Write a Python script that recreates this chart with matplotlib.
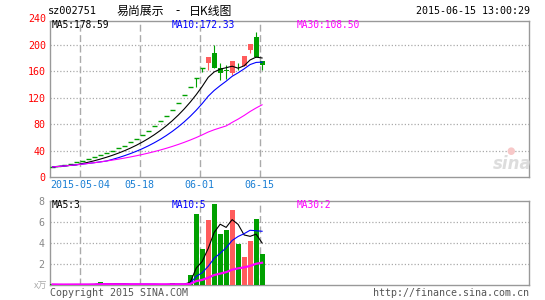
import numpy as np
import pandas as pd
import matplotlib
matplotlib.use("Agg")
import matplotlib.pyplot as plt

W, H = 545, 300
MONO = "DejaVu Sans Mono"
CJK = ["Noto Sans CJK SC", "DejaVu Sans"]
UP = "#ff5c5c"; DOWN = "#00a000"; GRID = "#aaaaaa"; FRAME = "#999999"
DATE_BLUE = "#1a7fd4"

# trading days since listing (2015-04-24), May Day holiday removed
dates = pd.bdate_range("2015-04-24", "2015-06-15").drop(pd.Timestamp("2015-05-01"))
tick_dates = ["2015-05-04", "2015-05-18", "2015-06-01", "2015-06-15"]
tick_labels = ["2015-05-04", "05-18", "06-01", "06-15"]

opens = [15.2, 16.7, 18.4, 20.2, 22.2, 24.5, 26.9, 29.6, 32.6, 35.8, 39.4, 43.3,
         47.7, 52.4, 57.7, 63.5, 69.8, 76.8, 84.5, 92.9, 102.2, 112.4, 123.7, 136.0,
         149.6, 164.6, 173.0, 187.5, 164.7, 161.5, 157.0, 166.5, 168.5, 192.0, 212.0, 175.5]
closes = [15.2, 16.7, 18.4, 20.2, 22.2, 24.5, 26.9, 29.6, 32.6, 35.8, 39.4, 43.3,
          47.7, 52.4, 57.7, 63.5, 69.8, 76.8, 84.5, 92.9, 102.2, 112.4, 123.7, 136.0,
          149.6, 164.6, 181.1, 164.7, 157.1, 160.5, 176.0, 166.0, 183.0, 201.3, 182.0, 169.5]
highs = [15.2, 16.7, 18.4, 20.2, 22.2, 24.5, 26.9, 29.6, 32.6, 35.8, 39.4, 43.3,
         47.7, 52.4, 57.7, 63.5, 69.8, 76.8, 84.5, 92.9, 102.2, 112.4, 123.7, 136.0,
         149.6, 164.6, 181.1, 199.5, 172.0, 170.0, 176.0, 173.0, 183.5, 201.3, 220.0, 176.0]
lows = [15.2, 16.7, 18.4, 20.2, 22.2, 24.5, 26.9, 29.6, 32.6, 35.8, 39.4, 43.3,
        47.7, 52.4, 57.7, 63.5, 69.8, 76.8, 84.5, 92.9, 102.2, 112.4, 123.7, 136.0,
        136.0, 159.0, 162.0, 164.7, 147.0, 148.0, 155.0, 162.0, 168.0, 187.5, 181.5, 162.0]
volumes = [0.05, 0.04, 0.04, 0.05, 0.05, 0.05, 0.05, 0.08, 0.30, 0.05, 0.05, 0.05,
           0.05, 0.05, 0.05, 0.05, 0.05, 0.05, 0.05, 0.05, 0.20, 0.05, 0.05, 0.95,
           6.76, 3.43, 6.19, 7.71, 4.86, 5.24, 7.14, 3.90, 2.70, 4.19, 6.29, 2.95]

ma_windows = [5, 10, 30]
ma_colors = ["black", "#0000ff", "#ff00ff"]
price_ma_text = ["MA5:178.59", "MA10:172.33", "MA30:108.50"]
vol_ma_text = ["MA5:3", "MA10:5", "MA30:2"]


def fx(x):
    return x / W


def fy(y):
    return 1 - y / H


fig = plt.figure(figsize=(W / 100, H / 100), dpi=100)
fig.patch.set_facecolor("white")
ax = fig.add_axes([fx(50), fy(177), 479 / W, 156 / H])
vax = fig.add_axes([fx(50), fy(285), 479 / W, 84 / H])

o = np.array(opens); c = np.array(closes)
hi = np.array(highs); lo = np.array(lows)
vol = np.array(volumes)
x = np.arange(len(c))
cx = x + 0.42
bw = 0.83
cols = np.where(c > o, UP, DOWN)
tick_pos = [dates.get_loc(pd.Timestamp(d)) for d in tick_dates]

for a in (ax, vax):
    a.set_xlim(0, 80)
    for p in tick_pos:
        a.axvline(p, color=GRID, lw=1.0, ls=(0, (5, 2.5)), zorder=1)
    for sp in a.spines.values():
        sp.set_color(FRAME); sp.set_linewidth(1.0)
    a.tick_params(length=0)

# ---- price panel
ax.set_ylim(0, 236.4)
for v in [40, 80, 120, 160, 200]:
    ax.axhline(v, color=GRID, lw=0.9, ls=(0, (1, 1.6)), zorder=1)
ax.vlines(cx, lo, hi, colors=cols, lw=0.8, zorder=3)
body = c != o
ax.bar(x[body], np.abs(c - o)[body], bottom=np.minimum(o, c)[body], width=bw,
       align="edge", color=cols[body], lw=0, zorder=4)
ax.hlines(c[~body], x[~body], x[~body] + bw, colors=cols[~body], lw=1.0, zorder=4)
for n, col in zip(ma_windows, ma_colors):
    ax.plot(cx, pd.Series(c).rolling(n, min_periods=1).mean(), color=col, lw=0.8, zorder=5)

ax.set_yticks([0, 40, 80, 120, 160, 200])
ax.set_yticklabels(["0", "40", "80", "120", "160", "200"], color="#ff0000",
                   family=MONO, fontsize=7.2)
ax.tick_params(axis="y", pad=3)
ax.set_xticks(tick_pos)
ax.set_xticklabels(tick_labels, color=DATE_BLUE, family=MONO, fontsize=7.2)
ax.tick_params(axis="x", pad=2)
fig.text(fx(46.5), fy(18.6), "240", ha="right", va="center", color="#ff0000",
         family=MONO, fontsize=7.2)

# ---- volume panel
vax.set_ylim(0, 8)
for v in [2, 4, 6]:
    vax.axhline(v, color=GRID, lw=0.9, ls=(0, (1, 1.6)), zorder=1)
vax.bar(x, vol, width=bw, align="edge", color=cols, lw=0, zorder=3)
for n, col in zip(ma_windows, ma_colors):
    lw = 1.6 if n == 30 else 0.8
    vax.plot(cx, pd.Series(vol).rolling(n, min_periods=1).mean(), color=col, lw=lw, zorder=5)
vax.set_yticks([2, 4, 6, 8])
vax.set_yticklabels(["2", "4", "6", "8"], color="#888888", family=MONO, fontsize=7.2)
vax.tick_params(axis="y", pad=4)
vax.set_xticks([])

# ---- MA legends
for txt, col, px in zip(price_ma_text, ma_colors, [52, 172, 297]):
    fig.text(fx(px), fy(24.5), txt, color=col, family=MONO, fontsize=6.9, va="center")
for txt, col, px in zip(vol_ma_text, ma_colors, [52, 172, 297]):
    fig.text(fx(px), fy(205), txt, color=col, family=MONO, fontsize=6.9, va="center")

# ---- header / footer
fig.text(fx(48), fy(11), "sz002751", family=MONO, fontsize=7.4, va="center")
fig.text(fx(117), fy(11), "易尚展示", family=CJK, fontsize=8.6, va="center")
fig.text(fx(175), fy(11), "-", family=CJK, fontsize=8.6, va="center")
fig.text(fx(189), fy(11), "日K线图", family=CJK, fontsize=8.6, va="center")
fig.text(fx(530), fy(11), "2015-06-15 13:00:29", family=MONO, fontsize=7.2,
         va="center", ha="right")
fig.text(fx(47), fy(286), "x万", family=CJK, fontsize=6.5, color="#aaaaaa",
         va="center", ha="right")
fig.text(fx(50), fy(293), "Copyright 2015 SINA.COM", family=MONO, fontsize=7.2,
         color="#555555", va="center")
fig.text(fx(529), fy(293), "http://finance.sina.com.cn", family=MONO, fontsize=7.2,
         color="#555555", va="center", ha="right")

# faint sina watermark
fig.text(fx(512), fy(164), "sina", family="DejaVu Sans", fontsize=12, fontweight="bold",
         fontstyle="italic", color="#dddddd", ha="center", va="center", zorder=0)
fig.text(fx(511), fy(151), "●", family="DejaVu Sans", fontsize=7, color="#f7c8c8",
         ha="center", va="center", zorder=0)

fig.savefig("out.png", dpi=100, facecolor="white")
